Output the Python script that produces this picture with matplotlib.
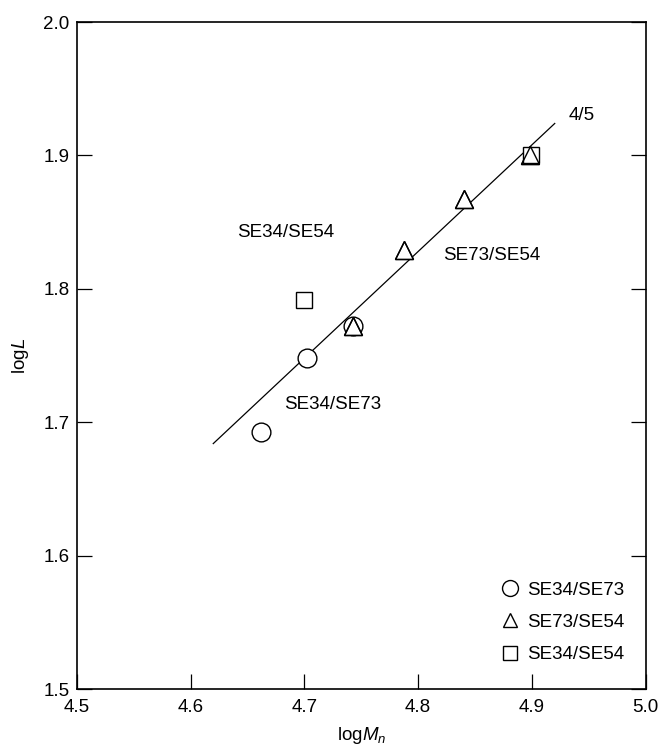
import matplotlib
matplotlib.use("Agg")
import matplotlib.pyplot as plt
import numpy as np

plt.rcParams["font.family"] = ["Liberation Sans", "DejaVu Sans"]
plt.rcParams["mathtext.fontset"] = "custom"
plt.rcParams["mathtext.rm"] = "Liberation Sans"
plt.rcParams["mathtext.it"] = "Liberation Sans:italic"

# data
se34_se73_x = [4.662, 4.702, 4.743]
se34_se73_y = [1.693, 1.748, 1.772]
se73_se54_x = [4.743, 4.788, 4.840, 4.898]
se73_se54_y = [1.772, 1.829, 1.867, 1.900]
se34_se54_x = [4.700, 4.899]
se34_se54_y = [1.792, 1.900]

fit_x = [4.620, 4.920]
fit_slope = 0.8
fit_y0 = 1.684

fig = plt.figure(figsize=(6.61, 7.46), dpi=100)
ax = fig.add_axes([0.116, 0.0764, 0.861, 0.894])

fx = np.array(fit_x)
ax.plot(fx, fit_y0 + fit_slope * (fx - fx[0]), color="black", lw=0.9)

mk = dict(ls="none", mfc="white", mec="black", mew=1.0)
ax.plot(se34_se73_x, se34_se73_y, marker="o", ms=13.5, label="SE34/SE73", **mk)
ax.plot(se73_se54_x, se73_se54_y, marker="^", ms=12.5, label="SE73/SE54", **mk)
ax.plot(se34_se54_x, se34_se54_y, marker="s", ms=12, label="SE34/SE54", **mk)
# redraw triangles over squares/circles with transparent fill
ax.plot(se73_se54_x, se73_se54_y, marker="^", ms=12.5, ls="none", mfc="none",
        mec="black", mew=1.0)

fs = 13.5
ax.text(4.944, 1.930, "4/5", fontsize=fs, ha="center", va="center")
ax.text(4.684, 1.842, "SE34/SE54", fontsize=fs, ha="center", va="center")
ax.text(4.865, 1.825, "SE73/SE54", fontsize=fs, ha="center", va="center")
ax.text(4.725, 1.713, "SE34/SE73", fontsize=fs, ha="center", va="center")

ax.set_xlim(4.5, 5.0)
ax.set_ylim(1.5, 2.0)
ax.set_xticks(np.arange(4.5, 5.01, 0.1))
ax.set_yticks(np.arange(1.5, 2.01, 0.1))
ax.xaxis.set_major_formatter(matplotlib.ticker.FormatStrFormatter("%.1f"))
ax.yaxis.set_major_formatter(matplotlib.ticker.FormatStrFormatter("%.1f"))
ax.tick_params(direction="in", length=11, width=0.9, labelsize=fs,
               right=True, top=False)
ax.tick_params(axis="x", pad=7)
ax.tick_params(axis="y", pad=5)
for s in ax.spines.values():
    s.set_linewidth(1.2)

ax.set_xlabel(r"log$M_n$", fontsize=fs, labelpad=7)
ax.set_ylabel(r"log$L$", fontsize=fs, labelpad=9)

ax.legend(loc="lower right", bbox_to_anchor=(0.975, 0.0275), borderaxespad=0,
          frameon=False, fontsize=fs, handlelength=1.0, handletextpad=0.4,
          labelspacing=0.8, markerscale=0.85)

fig.savefig("out.png", dpi=100)
